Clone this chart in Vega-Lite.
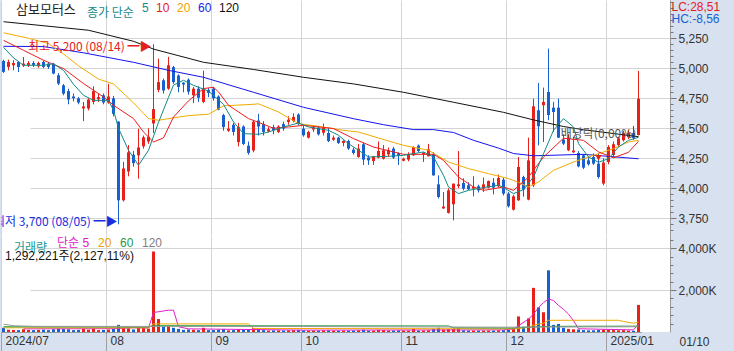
{
"$schema": "https://vega.github.io/schema/vega-lite/v6.json",
"padding": 0,
"background": "#d7e1ef",
"bounds": "flush",
"spacing": 0,
"title": {"text": "LC:28,51", "subtitle": "HC:-8,56", "anchor": "start", "frame": "bounds", "dx": 671, "offset": -26, "baseline": "top", "align": "left", "fontSize": 12, "subtitleFontSize": 12, "font": "Liberation Sans", "subtitleFont": "Liberation Sans", "fontWeight": "normal", "color": "#e8201a", "subtitleColor": "#1a5fd0", "subtitlePadding": 0},
"datasets": {
"ohlc": [
{"d":"2024-07-03","o":5061,"h":5072,"l":4961,"c":4970,"v":200000},
{"d":"2024-07-04","o":5011,"h":5072,"l":4983,"c":5053,"v":110000},
{"d":"2024-07-05","o":5025,"h":5067,"l":4983,"c":5044,"v":100000},
{"d":"2024-07-08","o":5053,"h":5060,"l":4969,"c":5011,"v":90000},
{"d":"2024-07-09","o":5022,"h":5094,"l":5011,"c":5039,"v":130000},
{"d":"2024-07-10","o":5025,"h":5060,"l":5011,"c":5044,"v":100000},
{"d":"2024-07-11","o":5044,"h":5060,"l":5011,"c":5028,"v":90000},
{"d":"2024-07-12","o":5017,"h":5055,"l":5005,"c":5044,"v":100000},
{"d":"2024-07-15","o":5053,"h":5065,"l":5000,"c":5011,"v":110000},
{"d":"2024-07-16","o":5039,"h":5050,"l":4995,"c":5011,"v":90000},
{"d":"2024-07-17","o":5039,"h":5045,"l":4950,"c":4956,"v":130000},
{"d":"2024-07-18","o":4942,"h":4960,"l":4860,"c":4872,"v":160000},
{"d":"2024-07-19","o":4858,"h":4870,"l":4775,"c":4789,"v":140000},
{"d":"2024-07-22","o":4810,"h":4830,"l":4700,"c":4740,"v":130000},
{"d":"2024-07-23","o":4765,"h":4790,"l":4725,"c":4750,"v":90000},
{"d":"2024-07-24","o":4750,"h":4760,"l":4700,"c":4715,"v":100000},
{"d":"2024-07-25","o":4665,"h":4720,"l":4560,"c":4682,"v":150000},
{"d":"2024-07-26","o":4665,"h":4750,"l":4650,"c":4740,"v":110000},
{"d":"2024-07-29","o":4720,"h":4850,"l":4700,"c":4810,"v":160000},
{"d":"2024-07-30","o":4742,"h":4790,"l":4720,"c":4760,"v":90000},
{"d":"2024-07-31","o":4775,"h":4790,"l":4700,"c":4715,"v":100000},
{"d":"2024-08-01","o":4715,"h":4870,"l":4705,"c":4765,"v":120000},
{"d":"2024-08-02","o":4750,"h":4770,"l":4600,"c":4620,"v":150000},
{"d":"2024-08-05","o":4555,"h":4560,"l":3700,"c":3900,"v":340000},
{"d":"2024-08-06","o":3900,"h":4220,"l":3890,"c":4165,"v":200000},
{"d":"2024-08-07","o":4140,"h":4360,"l":4100,"c":4300,"v":180000},
{"d":"2024-08-08","o":4280,"h":4310,"l":4180,"c":4210,"v":120000},
{"d":"2024-08-09","o":4275,"h":4497,"l":4080,"c":4340,"v":200000},
{"d":"2024-08-12","o":4350,"h":4440,"l":4330,"c":4425,"v":190000},
{"d":"2024-08-13","o":4390,"h":4500,"l":4370,"c":4430,"v":160000},
{"d":"2024-08-14","o":4540,"h":5200,"l":4460,"c":4660,"v":3841000},
{"d":"2024-08-16","o":4820,"h":5080,"l":4800,"c":4885,"v":618000},
{"d":"2024-08-19","o":4900,"h":4915,"l":4790,"c":4815,"v":250000},
{"d":"2024-08-20","o":4830,"h":5095,"l":4820,"c":5025,"v":300000},
{"d":"2024-08-21","o":5010,"h":5020,"l":4870,"c":4885,"v":200000},
{"d":"2024-08-22","o":4940,"h":4950,"l":4800,"c":4845,"v":150000},
{"d":"2024-08-23","o":4880,"h":4885,"l":4800,"c":4865,"v":100000},
{"d":"2024-08-26","o":4905,"h":4915,"l":4780,"c":4805,"v":120000},
{"d":"2024-08-27","o":4775,"h":4845,"l":4710,"c":4830,"v":110000},
{"d":"2024-08-28","o":4830,"h":4850,"l":4720,"c":4755,"v":90000},
{"d":"2024-08-29","o":4720,"h":4980,"l":4710,"c":4830,"v":200000},
{"d":"2024-08-30","o":4820,"h":4835,"l":4760,"c":4795,"v":90000},
{"d":"2024-09-02","o":4830,"h":4845,"l":4730,"c":4750,"v":90000},
{"d":"2024-09-03","o":4765,"h":4775,"l":4650,"c":4655,"v":110000},
{"d":"2024-09-04","o":4610,"h":4620,"l":4480,"c":4510,"v":140000},
{"d":"2024-09-05","o":4480,"h":4560,"l":4470,"c":4497,"v":80000},
{"d":"2024-09-06","o":4530,"h":4545,"l":4440,"c":4470,"v":90000},
{"d":"2024-09-09","o":4385,"h":4545,"l":4350,"c":4510,"v":130000},
{"d":"2024-09-10","o":4515,"h":4525,"l":4360,"c":4370,"v":120000},
{"d":"2024-09-11","o":4355,"h":4390,"l":4280,"c":4295,"v":110000},
{"d":"2024-09-12","o":4315,"h":4570,"l":4300,"c":4555,"v":180000},
{"d":"2024-09-13","o":4565,"h":4620,"l":4440,"c":4515,"v":130000},
{"d":"2024-09-19","o":4535,"h":4560,"l":4440,"c":4470,"v":90000},
{"d":"2024-09-20","o":4475,"h":4510,"l":4465,"c":4492,"v":70000},
{"d":"2024-09-23","o":4510,"h":4530,"l":4450,"c":4483,"v":80000},
{"d":"2024-09-24","o":4470,"h":4525,"l":4460,"c":4515,"v":80000},
{"d":"2024-09-25","o":4535,"h":4555,"l":4480,"c":4497,"v":70000},
{"d":"2024-09-26","o":4553,"h":4600,"l":4530,"c":4572,"v":80000},
{"d":"2024-09-27","o":4560,"h":4625,"l":4550,"c":4595,"v":90000},
{"d":"2024-09-30","o":4615,"h":4625,"l":4525,"c":4535,"v":100000},
{"d":"2024-10-02","o":4497,"h":4525,"l":4430,"c":4442,"v":80000},
{"d":"2024-10-04","o":4422,"h":4480,"l":4415,"c":4469,"v":70000},
{"d":"2024-10-07","o":4490,"h":4525,"l":4470,"c":4507,"v":70000},
{"d":"2024-10-08","o":4506,"h":4517,"l":4440,"c":4450,"v":70000},
{"d":"2024-10-10","o":4463,"h":4540,"l":4440,"c":4506,"v":80000},
{"d":"2024-10-11","o":4461,"h":4505,"l":4385,"c":4394,"v":80000},
{"d":"2024-10-14","o":4405,"h":4440,"l":4395,"c":4422,"v":70000},
{"d":"2024-10-15","o":4422,"h":4430,"l":4370,"c":4378,"v":70000},
{"d":"2024-10-16","o":4378,"h":4400,"l":4350,"c":4395,"v":70000},
{"d":"2024-10-17","o":4394,"h":4405,"l":4320,"c":4331,"v":70000},
{"d":"2024-10-18","o":4322,"h":4340,"l":4280,"c":4294,"v":70000},
{"d":"2024-10-21","o":4261,"h":4370,"l":4255,"c":4331,"v":80000},
{"d":"2024-10-22","o":4367,"h":4380,"l":4195,"c":4239,"v":110000},
{"d":"2024-10-23","o":4256,"h":4275,"l":4195,"c":4233,"v":70000},
{"d":"2024-10-24","o":4228,"h":4270,"l":4195,"c":4267,"v":70000},
{"d":"2024-10-25","o":4256,"h":4390,"l":4250,"c":4311,"v":100000},
{"d":"2024-10-28","o":4247,"h":4360,"l":4240,"c":4317,"v":90000},
{"d":"2024-10-29","o":4283,"h":4340,"l":4260,"c":4317,"v":70000},
{"d":"2024-10-30","o":4331,"h":4345,"l":4245,"c":4256,"v":70000},
{"d":"2024-10-31","o":4292,"h":4300,"l":4195,"c":4275,"v":80000},
{"d":"2024-11-01","o":4230,"h":4255,"l":4225,"c":4247,"v":70000},
{"d":"2024-11-04","o":4239,"h":4300,"l":4225,"c":4283,"v":70000},
{"d":"2024-11-05","o":4275,"h":4350,"l":4270,"c":4344,"v":150000},
{"d":"2024-11-06","o":4356,"h":4365,"l":4300,"c":4311,"v":70000},
{"d":"2024-11-07","o":4283,"h":4300,"l":4220,"c":4298,"v":70000},
{"d":"2024-11-08","o":4267,"h":4370,"l":4265,"c":4325,"v":80000},
{"d":"2024-11-11","o":4283,"h":4300,"l":4105,"c":4108,"v":150000},
{"d":"2024-11-12","o":4033,"h":4108,"l":3915,"c":3928,"v":200000},
{"d":"2024-11-13","o":3832,"h":3970,"l":3830,"c":3848,"v":120000},
{"d":"2024-11-14","o":3795,"h":4000,"l":3790,"c":3983,"v":140000},
{"d":"2024-11-15","o":3867,"h":4039,"l":3733,"c":4039,"v":150000},
{"d":"2024-11-18","o":4018,"h":4311,"l":4000,"c":4033,"v":160000},
{"d":"2024-11-19","o":4044,"h":4083,"l":3983,"c":3997,"v":80000},
{"d":"2024-11-20","o":4025,"h":4050,"l":3985,"c":3992,"v":70000},
{"d":"2024-11-21","o":3998,"h":4100,"l":3933,"c":4012,"v":70000},
{"d":"2024-11-22","o":4017,"h":4030,"l":3965,"c":3983,"v":70000},
{"d":"2024-11-25","o":3997,"h":4090,"l":3970,"c":4033,"v":70000},
{"d":"2024-11-26","o":4006,"h":4065,"l":4000,"c":4061,"v":70000},
{"d":"2024-11-27","o":4047,"h":4085,"l":3950,"c":4006,"v":70000},
{"d":"2024-11-28","o":4017,"h":4115,"l":4010,"c":4086,"v":80000},
{"d":"2024-11-29","o":4072,"h":4090,"l":3940,"c":3956,"v":90000},
{"d":"2024-12-02","o":3956,"h":3970,"l":3840,"c":3850,"v":120000},
{"d":"2024-12-03","o":3822,"h":3945,"l":3815,"c":3933,"v":140000},
{"d":"2024-12-04","o":3900,"h":4261,"l":3895,"c":4178,"v":744000},
{"d":"2024-12-05","o":4094,"h":4105,"l":3930,"c":3989,"v":250000},
{"d":"2024-12-06","o":3906,"h":4422,"l":3900,"c":4233,"v":651000},
{"d":"2024-12-09","o":4025,"h":4747,"l":4010,"c":4683,"v":2107000},
{"d":"2024-12-10","o":4650,"h":4878,"l":4358,"c":4517,"v":1176000},
{"d":"2024-12-11","o":4692,"h":4839,"l":4386,"c":4719,"v":944000},
{"d":"2024-12-12","o":4803,"h":5164,"l":4567,"c":4611,"v":2943000},
{"d":"2024-12-13","o":4672,"h":4720,"l":4470,"c":4636,"v":340000},
{"d":"2024-12-16","o":4672,"h":4747,"l":4420,"c":4422,"v":386000},
{"d":"2024-12-17","o":4406,"h":4450,"l":4360,"c":4372,"v":200000},
{"d":"2024-12-18","o":4317,"h":4450,"l":4310,"c":4422,"v":150000},
{"d":"2024-12-19","o":4300,"h":4430,"l":4295,"c":4315,"v":130000},
{"d":"2024-12-20","o":4294,"h":4310,"l":4175,"c":4183,"v":120000},
{"d":"2024-12-23","o":4275,"h":4285,"l":4160,"c":4172,"v":90000},
{"d":"2024-12-24","o":4233,"h":4260,"l":4190,"c":4200,"v":80000},
{"d":"2024-12-26","o":4261,"h":4290,"l":4195,"c":4206,"v":80000},
{"d":"2024-12-27","o":4206,"h":4290,"l":4080,"c":4094,"v":100000},
{"d":"2024-12-30","o":4039,"h":4250,"l":4025,"c":4215,"v":120000},
{"d":"2025-01-02","o":4219,"h":4360,"l":4200,"c":4344,"v":110000},
{"d":"2025-01-03","o":4278,"h":4390,"l":4265,"c":4367,"v":90000},
{"d":"2025-01-06","o":4361,"h":4430,"l":4345,"c":4417,"v":80000},
{"d":"2025-01-07","o":4400,"h":4480,"l":4390,"c":4461,"v":90000},
{"d":"2025-01-08","o":4425,"h":4490,"l":4410,"c":4460,"v":70000},
{"d":"2025-01-09","o":4461,"h":4520,"l":4410,"c":4420,"v":61000},
{"d":"2025-01-10","o":4444,"h":4978,"l":4440,"c":4747,"v":1292221}
],
"ma": [
{"d":"2024-07-03","s":"120","p":5388},{"d":"2024-07-26","s":"120","p":5317},{"d":"2024-08-08","s":"120","p":5225},{"d":"2024-08-14","s":"120","p":5160},{"d":"2024-08-29","s":"120","p":5050},{"d":"2024-09-12","s":"120","p":4990},{"d":"2024-10-02","s":"120","p":4925},{"d":"2024-10-18","s":"120","p":4870},{"d":"2024-11-01","s":"120","p":4800},{"d":"2024-11-15","s":"120","p":4717},{"d":"2024-11-29","s":"120","p":4633},{"d":"2024-12-09","s":"120","p":4570},{"d":"2024-12-17","s":"120","p":4515},{"d":"2024-12-23","s":"120","p":4488},{"d":"2025-01-10","s":"120","p":4430},
{"d":"2024-07-03","s":"60","p":5183},{"d":"2024-07-15","s":"60","p":5181},{"d":"2024-07-25","s":"60","p":5129},{"d":"2024-08-08","s":"60","p":5050},{"d":"2024-08-20","s":"60","p":4983},{"d":"2024-08-29","s":"60","p":4925},{"d":"2024-09-12","s":"60","p":4800},{"d":"2024-10-02","s":"60","p":4675},{"d":"2024-10-18","s":"60","p":4580},{"d":"2024-10-28","s":"60","p":4530},{"d":"2024-11-05","s":"60","p":4489},{"d":"2024-11-11","s":"60","p":4489},{"d":"2024-11-15","s":"60","p":4465},{"d":"2024-11-21","s":"60","p":4400},{"d":"2024-11-28","s":"60","p":4335},{"d":"2024-12-03","s":"60","p":4290},{"d":"2024-12-09","s":"60","p":4271},{"d":"2024-12-23","s":"60","p":4283},{"d":"2025-01-10","s":"60","p":4246},
{"d":"2024-07-03","s":"20","p":5296},{"d":"2024-07-10","s":"20","p":5250},{"d":"2024-07-16","s":"20","p":5206},{"d":"2024-07-19","s":"20","p":5120},{"d":"2024-07-24","s":"20","p":5020},{"d":"2024-07-30","s":"20","p":4910},{"d":"2024-08-02","s":"20","p":4870},{"d":"2024-08-08","s":"20","p":4712},{"d":"2024-08-13","s":"20","p":4581},{"d":"2024-08-16","s":"20","p":4567},{"d":"2024-08-21","s":"20","p":4587},{"d":"2024-08-26","s":"20","p":4606},{"d":"2024-08-30","s":"20","p":4617},{"d":"2024-09-04","s":"20","p":4687},{"d":"2024-09-12","s":"20","p":4700},{"d":"2024-09-13","s":"20","p":4704},{"d":"2024-09-24","s":"20","p":4636},{"d":"2024-09-30","s":"20","p":4539},{"d":"2024-10-08","s":"20","p":4517},{"d":"2024-10-16","s":"20","p":4483},{"d":"2024-10-21","s":"20","p":4469},{"d":"2024-10-29","s":"20","p":4394},{"d":"2024-11-01","s":"20","p":4358},{"d":"2024-11-08","s":"20","p":4317},{"d":"2024-11-14","s":"20","p":4219},{"d":"2024-11-20","s":"20","p":4164},{"d":"2024-11-26","s":"20","p":4122},{"d":"2024-12-02","s":"20","p":4081},{"d":"2024-12-04","s":"20","p":4050},{"d":"2024-12-06","s":"20","p":4011},{"d":"2024-12-10","s":"20","p":4053},{"d":"2024-12-13","s":"20","p":4150},{"d":"2024-12-19","s":"20","p":4219},{"d":"2024-12-26","s":"20","p":4275},{"d":"2025-01-03","s":"20","p":4331},{"d":"2025-01-08","s":"20","p":4386},{"d":"2025-01-10","s":"20","p":4400},
{"d":"2024-07-03","s":"10","p":5233},{"d":"2024-07-09","s":"10","p":5150},{"d":"2024-07-15","s":"10","p":5067},{"d":"2024-07-19","s":"10","p":4998},{"d":"2024-07-25","s":"10","p":4873},{"d":"2024-07-31","s":"10","p":4761},{"d":"2024-08-02","s":"10","p":4692},{"d":"2024-08-08","s":"10","p":4581},{"d":"2024-08-12","s":"10","p":4469},{"d":"2024-08-14","s":"10","p":4386},{"d":"2024-08-19","s":"10","p":4420},{"d":"2024-08-21","s":"10","p":4594},{"d":"2024-08-26","s":"10","p":4729},{"d":"2024-08-29","s":"10","p":4831},{"d":"2024-09-02","s":"10","p":4842},{"d":"2024-09-03","s":"10","p":4803},{"d":"2024-09-05","s":"10","p":4692},{"d":"2024-09-11","s":"10","p":4581},{"d":"2024-09-13","s":"10","p":4550},{"d":"2024-09-23","s":"10","p":4500},{"d":"2024-09-26","s":"10","p":4511},{"d":"2024-10-02","s":"10","p":4525},{"d":"2024-10-14","s":"10","p":4498},{"d":"2024-10-18","s":"10","p":4414},{"d":"2024-10-24","s":"10","p":4344},{"d":"2024-11-01","s":"10","p":4283},{"d":"2024-11-11","s":"10","p":4283},{"d":"2024-11-13","s":"10","p":4233},{"d":"2024-11-18","s":"10","p":4094},{"d":"2024-11-21","s":"10","p":4011},{"d":"2024-11-25","s":"10","p":3983},{"d":"2024-11-29","s":"10","p":4011},{"d":"2024-12-03","s":"10","p":3983},{"d":"2024-12-06","s":"10","p":4094},{"d":"2024-12-11","s":"10","p":4261},{"d":"2024-12-17","s":"10","p":4417},{"d":"2024-12-23","s":"10","p":4400},{"d":"2024-12-27","s":"10","p":4303},{"d":"2025-01-03","s":"10","p":4254},{"d":"2025-01-08","s":"10","p":4300},{"d":"2025-01-10","s":"10","p":4392},
{"d":"2024-07-03","s":"5","p":5175},{"d":"2024-07-05","s":"5","p":5087},{"d":"2024-07-09","s":"5","p":5025},{"d":"2024-07-15","s":"5","p":5025},{"d":"2024-07-17","s":"5","p":5037},{"d":"2024-07-19","s":"5","p":4983},{"d":"2024-07-23","s":"5","p":4867},{"d":"2024-07-25","s":"5","p":4775},{"d":"2024-07-29","s":"5","p":4733},{"d":"2024-08-01","s":"5","p":4733},{"d":"2024-08-02","s":"5","p":4650},{"d":"2024-08-05","s":"5","p":4500},{"d":"2024-08-07","s":"5","p":4317},{"d":"2024-08-09","s":"5","p":4192},{"d":"2024-08-13","s":"5","p":4317},{"d":"2024-08-16","s":"5","p":4550},{"d":"2024-08-20","s":"5","p":4758},{"d":"2024-08-21","s":"5","p":4860},{"d":"2024-08-23","s":"5","p":4900},{"d":"2024-08-27","s":"5","p":4858},{"d":"2024-08-30","s":"5","p":4810},{"d":"2024-09-04","s":"5","p":4700},{"d":"2024-09-06","s":"5","p":4553},{"d":"2024-09-10","s":"5","p":4456},{"d":"2024-09-13","s":"5","p":4450},{"d":"2024-09-20","s":"5","p":4469},{"d":"2024-09-25","s":"5","p":4511},{"d":"2024-09-30","s":"5","p":4544},{"d":"2024-10-04","s":"5","p":4511},{"d":"2024-10-11","s":"5","p":4483},{"d":"2024-10-15","s":"5","p":4442},{"d":"2024-10-17","s":"5","p":4372},{"d":"2024-10-21","s":"5","p":4317},{"d":"2024-10-23","s":"5","p":4261},{"d":"2024-10-29","s":"5","p":4267},{"d":"2024-11-01","s":"5","p":4275},{"d":"2024-11-07","s":"5","p":4303},{"d":"2024-11-11","s":"5","p":4261},{"d":"2024-11-13","s":"5","p":4108},{"d":"2024-11-14","s":"5","p":4011},{"d":"2024-11-18","s":"5","p":3956},{"d":"2024-11-20","s":"5","p":3983},{"d":"2024-11-25","s":"5","p":4006},{"d":"2024-11-28","s":"5","p":4025},{"d":"2024-11-29","s":"5","p":4006},{"d":"2024-12-03","s":"5","p":3956},{"d":"2024-12-05","s":"5","p":3989},{"d":"2024-12-09","s":"5","p":4094},{"d":"2024-12-11","s":"5","p":4289},{"d":"2024-12-13","s":"5","p":4483},{"d":"2024-12-17","s":"5","p":4581},{"d":"2024-12-19","s":"5","p":4511},{"d":"2024-12-20","s":"5","p":4372},{"d":"2024-12-24","s":"5","p":4261},{"d":"2024-12-27","s":"5","p":4217},{"d":"2025-01-02","s":"5","p":4247},{"d":"2025-01-06","s":"5","p":4344},{"d":"2025-01-08","s":"5","p":4400},{"d":"2025-01-10","s":"5","p":4425}
],
"vma": [
{"d":"2024-07-09","s":"5","v":150000},{"d":"2024-08-02","s":"5","v":160000},{"d":"2024-08-08","s":"5","v":200000},{"d":"2024-08-13","s":"5","v":190000},{"d":"2024-08-14","s":"5","v":930000},{"d":"2024-08-20","s":"5","v":1040000},{"d":"2024-08-21","s":"5","v":1040000},{"d":"2024-08-22","s":"5","v":250000},{"d":"2024-08-26","s":"5","v":150000},{"d":"2024-10-02","s":"5","v":90000},{"d":"2024-11-29","s":"5","v":100000},{"d":"2024-12-03","s":"5","v":150000},{"d":"2024-12-04","s":"5","v":300000},{"d":"2024-12-06","s":"5","v":618000},{"d":"2024-12-09","s":"5","v":851000},{"d":"2024-12-10","s":"5","v":1162000},{"d":"2024-12-11","s":"5","v":1400000},{"d":"2024-12-12","s":"5","v":1581000},{"d":"2024-12-13","s":"5","v":1500000},{"d":"2024-12-16","s":"5","v":1270000},{"d":"2024-12-17","s":"5","v":1085000},{"d":"2024-12-18","s":"5","v":851000},{"d":"2024-12-19","s":"5","v":540000},{"d":"2024-12-20","s":"5","v":155000},{"d":"2025-01-09","s":"5","v":100000},{"d":"2025-01-10","s":"5","v":380000},
{"d":"2024-07-03","s":"20","v":200000},{"d":"2024-08-13","s":"20","v":200000},{"d":"2024-08-14","s":"20","v":387000},{"d":"2024-09-11","s":"20","v":387000},{"d":"2024-09-12","s":"20","v":170000},{"d":"2024-12-03","s":"20","v":150000},{"d":"2024-12-05","s":"20","v":190000},{"d":"2024-12-06","s":"20","v":220000},{"d":"2024-12-09","s":"20","v":320000},{"d":"2024-12-10","s":"20","v":380000},{"d":"2024-12-11","s":"20","v":420000},{"d":"2024-12-12","s":"20","v":560000},{"d":"2025-01-06","s":"20","v":560000},{"d":"2025-01-07","s":"20","v":500000},{"d":"2025-01-09","s":"20","v":420000},{"d":"2025-01-10","s":"20","v":470000},
{"d":"2024-07-03","s":"60","v":250000},{"d":"2024-08-13","s":"60","v":240000},{"d":"2024-08-14","s":"60","v":300000},{"d":"2024-11-14","s":"60","v":290000},{"d":"2024-11-15","s":"60","v":200000},{"d":"2024-12-03","s":"60","v":190000},{"d":"2024-12-05","s":"60","v":220000},{"d":"2024-12-12","s":"60","v":270000},{"d":"2025-01-10","s":"60","v":280000},
{"d":"2024-07-03","s":"120","v":370000},{"d":"2024-07-05","s":"120","v":300000},{"d":"2024-07-11","s":"120","v":270000},{"d":"2024-10-02","s":"120","v":260000},{"d":"2024-11-29","s":"120","v":230000},{"d":"2025-01-10","s":"120","v":250000}
]
},
"vconcat": [
{
"width": 669, "height": 235,
"title": {"text": "삼보모터스", "anchor": "start", "frame": "group", "offset": -17, "dx": 15, "baseline": "top", "fontSize": 13, "font": "Noto Sans CJK KR", "fontWeight": "normal", "color": "#222222"},
"encoding": {"x": {"field": "d", "type": "ordinal", "scale": {"type": "band", "range": [0, 640], "paddingInner": 0, "paddingOuter": 0}, "axis": {"values": ["2024-07-03","2024-08-01","2024-09-02","2024-10-02","2024-11-01","2024-12-02","2025-01-02"], "bandPosition": 0, "labels": false, "ticks": false, "domain": true, "domainColor": "#999999", "grid": true, "gridColor": "#d4d4d4", "title": null, "minExtent": 0, "maxExtent": 0}}},
"layer": [
{"data": {"name": "ohlc"}, "mark": {"type": "rule", "strokeWidth": 1},
 "encoding": {"y": {"field": "l", "type": "quantitative", "scale": {"domain": [3611, 5569], "nice": false, "zero": false}, "axis": null}, "y2": {"field": "h"},
  "color": {"condition": {"test": "datum.c >= datum.o", "value": "#e8201a"}, "value": "#1a5fd0"}}},
{"data": {"name": "ohlc"}, "mark": {"type": "bar", "size": 3},
 "encoding": {"y": {"field": "o", "type": "quantitative", "scale": {"domain": [3611, 5569], "nice": false, "zero": false}, "axis": null}, "y2": {"field": "c"},
  "color": {"condition": {"test": "datum.c >= datum.o", "value": "#e8201a"}, "value": "#1a5fd0"}}},
{"data": {"name": "ma"}, "mark": {"type": "line", "strokeWidth": 1},
 "encoding": {"y": {"field": "p", "type": "quantitative", "scale": {"domain": [3611, 5569], "nice": false, "zero": false},
   "axis": {"orient": "right", "values": [3750,4000,4250,4500,4750,5000,5250], "labelExpr": "format(datum.value, ',')", "grid": true, "gridColor": "#d4d4d4", "tickSize": 6, "tickColor": "#777777", "domain": true, "domainColor": "#999999", "labelFontSize": 12, "labelFont": "Liberation Sans", "labelColor": "#333333", "labelPadding": 2, "minExtent": 65, "maxExtent": 65, "title": null}},
  "color": {"field": "s", "type": "nominal", "scale": {"domain": ["5","10","20","60","120"], "range": ["#0f8a84","#ee1c1c","#f2aa00","#1414f0","#111111"]},
   "legend": {"orient": "none", "legendX": 86, "legendY": 2, "direction": "horizontal", "gridAlign": "none", "title": "종가 단순", "titleOrient": "left", "titleColor": "#168a8a", "titleFont": "Noto Sans CJK KR", "titleFontSize": 12, "titleFontWeight": "normal", "titlePadding": 8, "titleBaseline": "top", "labelFont": "Liberation Sans", "labelFontSize": 12, "labelBaseline": "middle", "labelColor": {"expr": "datum.value==='5'?'#168a8a':datum.value==='10'?'#e8201a':datum.value==='20'?'#f0a000':datum.value==='60'?'#1a1ae6':'#111111'"}, "symbolType": "circle", "symbolSize": 1, "symbolStrokeWidth": 0, "symbolOpacity": 0, "labelOffset": -12, "columnPadding": 7, "padding": 0}}}},
{"data": {"name": "ma"}, "mark": {"type": "point", "opacity": 0, "size": 0},
 "encoding": {"y": {"field": "p", "type": "quantitative", "scale": {"domain": [3611, 5569], "nice": false, "zero": false},
   "axis": {"orient": "right", "values": [3650,3700,3800,3850,3900,3950,4050,4100,4150,4200,4300,4350,4400,4450,4550,4600,4650,4700,4800,4850,4900,4950,5050,5100,5150,5200,5300,5350,5400,5450,5500,5550], "labels": false, "grid": false, "domain": false, "ticks": true, "tickSize": 3, "tickColor": "#777777", "title": null, "minExtent": 0, "maxExtent": 0}}}},
{"data": {"values": [{"d": "2024-08-14", "p": 5200, "t": "최고 5,200 (08/14) ━▶"}]}, "mark": {"type": "text", "align": "right", "baseline": "middle", "dx": -2, "dy": 3, "color": "#e8201a", "fontSize": 12, "font": "Noto Sans CJK KR", "clip": true},
 "encoding": {"y": {"field": "p", "type": "quantitative", "scale": {"domain": [3611, 5569], "nice": false, "zero": false}, "axis": null}, "text": {"field": "t"}}},
{"data": {"values": [{"d": "2024-08-05", "p": 3700, "t": "최저 3,700 (08/05) ━▶"}]}, "mark": {"type": "text", "align": "right", "baseline": "middle", "dx": -1, "dy": -2, "color": "#1a2ee0", "fontSize": 12, "font": "Noto Sans CJK KR", "clip": true},
 "encoding": {"y": {"field": "p", "type": "quantitative", "scale": {"domain": [3611, 5569], "nice": false, "zero": false}, "axis": null}, "text": {"field": "t"}}},
{"data": {"values": [{"d": "2024-12-27", "p": 4255}]}, "mark": {"type": "point", "shape": "triangle-down", "filled": true, "color": "#e8201a", "size": 40, "opacity": 1},
 "encoding": {"y": {"field": "p", "type": "quantitative", "scale": {"domain": [3611, 5569], "nice": false, "zero": false}, "axis": null}}},
{"data": {"values": [{"d": "2024-12-27", "p": 4450, "t": "배당락(0,00%)"}]}, "mark": {"type": "text", "align": "center", "baseline": "middle", "color": "#555555", "fontSize": 12, "font": "Noto Sans CJK KR", "clip": true},
 "encoding": {"y": {"field": "p", "type": "quantitative", "scale": {"domain": [3611, 5569], "nice": false, "zero": false}, "axis": null}, "text": {"field": "t"}}}
],
"resolve": {"axis": {"y": "independent"}}
},
{
"width": 669, "height": 97,
"title": {"text": "1,292,221주(2,127,11%)", "anchor": "start", "frame": "group", "offset": -28, "dx": 4, "baseline": "top", "fontSize": 12, "font": "Liberation Sans, Noto Sans CJK KR", "fontWeight": "normal", "color": "#111111"},
"encoding": {"x": {"field": "d", "type": "ordinal", "scale": {"type": "band", "range": [0, 640], "paddingInner": 0, "paddingOuter": 0},
 "axis": {"values": ["2024-07-03","2024-08-01","2024-09-02","2024-10-02","2024-11-01","2024-12-02","2025-01-02"], "bandPosition": 0,
  "labelExpr": "datum.value==='2024-07-03'||slice(datum.value,5,7)==='01' ? replace(slice(datum.value,0,7),'-','/') : slice(datum.value,5,7)",
  "labelAngle": 0, "labelAlign": "left", "labelBaseline": "top", "labelOffset": 2, "labelPadding": -16, "labelFontSize": 12, "labelFont": "Liberation Sans", "labelColor": "#333333", "labelOverlap": false, "labelBound": false, "labelFlush": false,
  "ticks": true, "tickSize": 19, "tickColor": "#a0a0a0", "domain": true, "domainColor": "#999999", "grid": true, "gridColor": "#d4d4d4", "title": null, "minExtent": 19, "maxExtent": 19}}},
"layer": [
{"data": {"name": "ohlc"}, "mark": {"type": "bar", "size": 3},
 "encoding": {"y": {"field": "v", "type": "quantitative", "scale": {"domain": [0, 4630000], "nice": false},
   "axis": {"orient": "right", "values": [2000000, 4000000], "labelExpr": "format(datum.value/1000, ',') + 'K'", "grid": true, "gridColor": "#d4d4d4", "tickSize": 6, "tickColor": "#777777", "domain": true, "domainColor": "#999999", "labelFontSize": 12, "labelFont": "Liberation Sans", "labelColor": "#333333", "labelPadding": 2, "minExtent": 65, "maxExtent": 65,
    "title": "01/10", "titleAngle": 0, "titleAlign": "left", "titleBaseline": "top", "titleX": 9, "titleY": 101, "titleFontSize": 12, "titleFontWeight": "normal", "titleColor": "#333333", "titleFont": "Liberation Sans"}},
  "color": {"condition": {"test": "datum.c >= datum.o", "value": "#e8201a"}, "value": "#1a5fd0"}}},
{"data": {"name": "vma"}, "mark": {"type": "line", "strokeWidth": 1},
 "encoding": {"y": {"field": "v", "type": "quantitative", "scale": {"domain": [0, 4630000], "nice": false}, "axis": null},
  "color": {"field": "s", "type": "nominal", "scale": {"domain": ["5","20","60","120"], "range": ["#e020c8","#f0a800","#1f9a40","#999999"]},
   "legend": {"orient": "none", "legendX": 13, "legendY": 2, "direction": "horizontal", "gridAlign": "none", "title": "거래량", "titleOrient": "left", "titleColor": "#1a9a9a", "titleFont": "Noto Sans CJK KR", "titleFontSize": 12, "titleFontWeight": "normal", "titlePadding": 9, "titleBaseline": "top", "labelFont": "Liberation Sans, Noto Sans CJK KR", "labelFontSize": 12, "labelBaseline": "middle", "labelExpr": "datum.value==='5' ? '단순 5' : datum.label", "labelColor": {"expr": "datum.value==='5'?'#e020c8':datum.value==='20'?'#f0a000':datum.value==='60'?'#1f9a40':'#808080'"}, "symbolType": "circle", "symbolSize": 1, "symbolStrokeWidth": 0, "symbolOpacity": 0, "labelOffset": -12, "columnPadding": 8, "padding": 0}}}},
{"data": {"name": "vma"}, "mark": {"type": "point", "opacity": 0, "size": 0},
 "encoding": {"y": {"field": "v", "type": "quantitative", "scale": {"domain": [0, 4630000], "nice": false},
   "axis": {"orient": "right", "values": [400000,800000,1200000,1600000,2400000,2800000,3200000,3600000,4400000], "labels": false, "grid": false, "domain": false, "ticks": true, "tickSize": 3, "tickColor": "#777777", "title": null, "minExtent": 0, "maxExtent": 0}}}}
],
"resolve": {"axis": {"y": "independent"}}
}
],
"resolve": {"scale": {"color": "independent", "y": "independent"}, "legend": {"color": "independent"}},
"config": {"view": {"stroke": null, "fill": "#ffffff"}, "axis": {"labelFont": "Liberation Sans"}}
}
